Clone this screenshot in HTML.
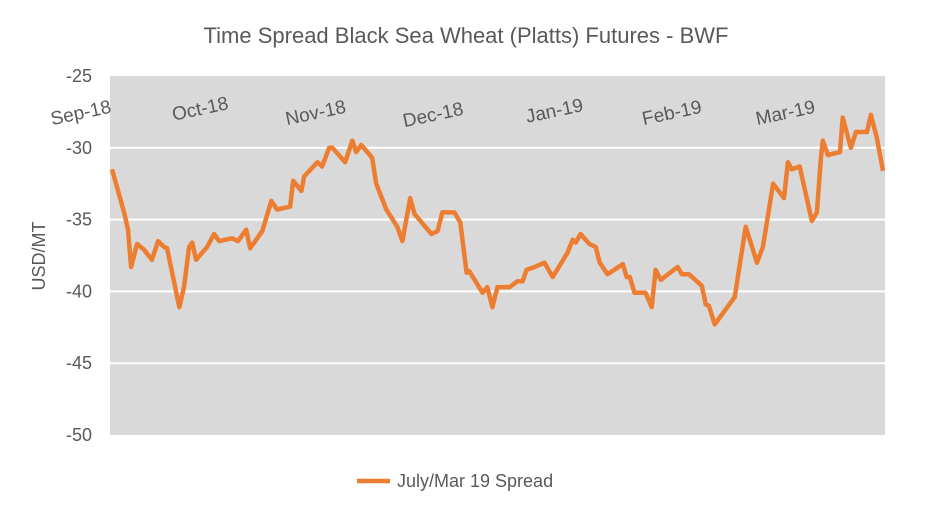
<!DOCTYPE html>
<html><head><meta charset="utf-8"><style>
body{margin:0;background:#fff;}
svg{display:block;font-family:"Liberation Sans",Calibri,sans-serif;}
</style></head><body>
<svg id="chart" width="932" height="513">
<text x="466" y="43" text-anchor="middle" font-size="22" fill="#595959">Time Spread Black Sea Wheat (Platts) Futures - BWF</text>
<rect x="110" y="76" width="775" height="359" fill="#d9d9d9"/>
<g id="grid"></g><g id="yticks"></g><g id="xlabels"></g>
<text transform="translate(45,256) rotate(-90)" text-anchor="middle" font-size="18" fill="#595959">USD/MT</text>
<path id="series" fill="none" stroke="#ed7d31" stroke-width="4.5" stroke-linejoin="round"/>
<line x1="357" y1="481" x2="390" y2="481" stroke="#ed7d31" stroke-width="4.5"/>
<text x="397" y="487" font-size="18" fill="#595959">July/Mar 19 Spread</text>
</svg>
<script>
const days=[0.5,3.6,4.6,5.4,6.9,8.7,10.7,12.3,13.8,14.6,17.7,18.9,20.2,21,22,24.8,26.6,27.9,31.2,32.7,34.8,35.8,38.9,41.2,42.7,46,46.8,48.9,49.6,53,54.2,56,56.8,60.1,61.9,62.9,64.2,67,68,70.6,73.4,74.7,76.7,77.8,82.1,83.7,84.9,88,89.5,91.1,91.8,95.2,96.4,97.7,99,102.1,104.1,105.4,106.4,108.5,111,113.1,116.9,118.2,119,120.2,122.5,124.1,125.1,127.1,131,132,132.8,134,136.8,138.4,139.4,140.7,145,146.1,147.9,151.2,152.2,153,154.5,159.6,162.4,165.3,166.8,169.4,172.2,173.2,174.2,176.2,179.3,180.6,181.6,182.1,183.4,186.5,187.2,189.3,190.6,193.4,194.4,195.9,197.5];
const values=[-31.5,-34.5,-35.7,-38.3,-36.7,-37.1,-37.8,-36.5,-36.9,-37.0,-41.1,-39.7,-36.9,-36.6,-37.8,-36.9,-36.0,-36.5,-36.3,-36.5,-35.7,-37.0,-35.8,-33.7,-34.3,-34.1,-32.3,-33.0,-32.0,-31.0,-31.3,-30.0,-30.0,-31.0,-29.5,-30.3,-29.8,-30.7,-32.5,-34.3,-35.5,-36.5,-33.5,-34.6,-36.0,-35.8,-34.5,-34.5,-35.2,-38.7,-38.6,-40.1,-39.7,-41.1,-39.7,-39.7,-39.3,-39.3,-38.5,-38.3,-38.0,-39.0,-37.3,-36.4,-36.6,-36.0,-36.7,-36.9,-38.0,-38.8,-38.1,-39.0,-39.0,-40.1,-40.1,-41.1,-38.5,-39.2,-38.3,-38.8,-38.8,-39.6,-40.9,-41.0,-42.3,-40.4,-35.5,-38.0,-36.9,-32.5,-33.5,-31.0,-31.5,-31.3,-35.1,-34.5,-30.8,-29.5,-30.5,-30.3,-27.9,-30.0,-28.9,-28.9,-27.7,-29.3,-31.6];
const yTicks=[-25,-30,-35,-40,-45,-50];
const monthLabels=["Sep-18","Oct-18","Nov-18","Dec-18","Jan-19","Feb-19","Mar-19"];
const monthDays=[-7.5,23,52.5,82.5,113.5,143.5,172.5];
const monthDy=[112,108,112,114,110,112,112];

const NS="http://www.w3.org/2000/svg";
const X=d=>110+d*(775/198);
const Y=v=>76+(-25-v)*(359/25);
const g=document.getElementById('grid'),yt=document.getElementById('yticks'),xl=document.getElementById('xlabels');
yTicks.forEach(t=>{
  if(t!==-25&&t!==-50){
    const l=document.createElementNS(NS,'line');
    l.setAttribute('x1',110);l.setAttribute('x2',885);
    l.setAttribute('y1',Y(t));l.setAttribute('y2',Y(t));
    l.setAttribute('stroke','#fff');l.setAttribute('stroke-width','2');
    
    
    g.appendChild(l);
  }
  const tx=document.createElementNS(NS,'text');
  tx.setAttribute('x',92);tx.setAttribute('y',Y(t)+6);
  tx.setAttribute('text-anchor','end');tx.setAttribute('font-size','18');tx.setAttribute('fill','#595959');
  tx.textContent=t;
  
  
  yt.appendChild(tx);
});
monthLabels.forEach((m,i)=>{
  const tx=document.createElementNS(NS,'text');
  const cx=X(monthDays[i]),cy=monthDy[i];
  tx.setAttribute('x',cx);tx.setAttribute('y',cy+7);
  tx.setAttribute('text-anchor','middle');tx.setAttribute('font-size','19');tx.setAttribute('fill','#595959');
  tx.setAttribute('transform','rotate(-12 '+cx+' '+cy+')');
  tx.textContent=m;
  
  
  xl.appendChild(tx);
});
document.getElementById('series').setAttribute('d',days.map((d,i)=>(i?'L':'M')+X(d).toFixed(1)+' '+Y(values[i]).toFixed(1)).join(' '));
</script>
</body></html>
